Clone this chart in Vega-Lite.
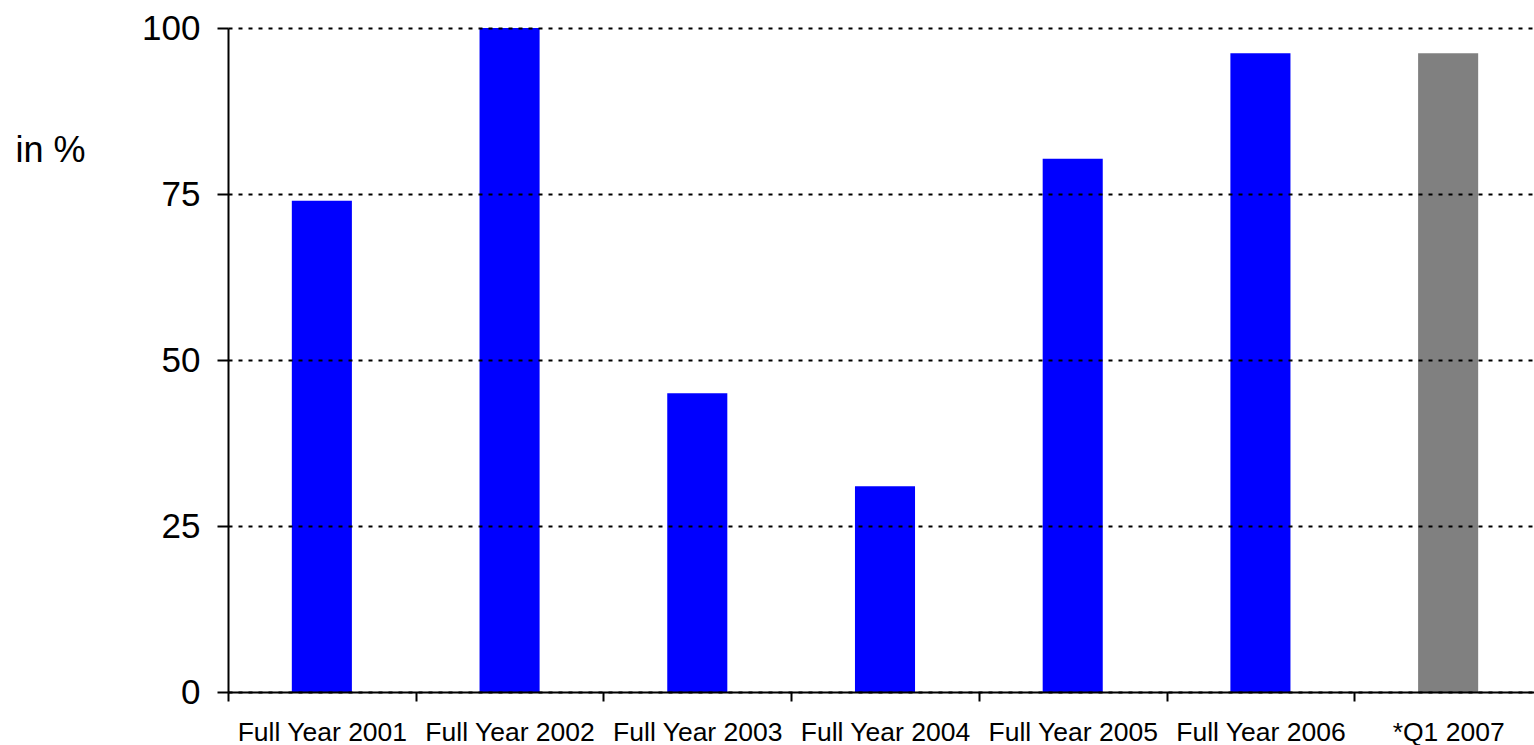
{
  "$schema": "https://vega.github.io/schema/vega-lite/v6.json",
  "autosize": {"type": "none"},
  "padding": {"left": 228, "top": 28, "right": 0, "bottom": 53},
  "width": 1314,
  "height": 664,
  "background": "white",
  "data": {
    "values": [
      {"period": "Full Year 2001", "value": 74.0, "kind": "full"},
      {"period": "Full Year 2002", "value": 100.0, "kind": "full"},
      {"period": "Full Year 2003", "value": 45.0, "kind": "full"},
      {"period": "Full Year 2004", "value": 31.0, "kind": "full"},
      {"period": "Full Year 2005", "value": 80.3, "kind": "full"},
      {"period": "Full Year 2006", "value": 96.2, "kind": "full"},
      {"period": "*Q1 2007", "value": 96.2, "kind": "quarter"}
    ]
  },
  "mark": {"type": "bar", "width": {"band": 0.32}},
  "encoding": {
    "x": {
      "field": "period",
      "type": "nominal",
      "sort": null,
      "scale": {"paddingInner": 0, "paddingOuter": 0},
      "axis": {
        "title": null,
        "tickBand": "extent",
        "labelAngle": 0,
        "labelFont": "Liberation Sans",
        "labelFontSize": 26.5,
        "labelColor": "black",
        "labelBaseline": "alphabetic",
        "labelPadding": 39,
        "ticks": true,
        "tickSize": 9,
        "tickColor": "black",
        "tickWidth": 2,
        "domainColor": "black",
        "domainWidth": 2,
        "grid": false,
        "zindex": 1
      }
    },
    "y": {
      "field": "value",
      "type": "quantitative",
      "scale": {"domain": [0, 100], "nice": false},
      "axis": {
        "values": [0, 25, 50, 75, 100],
        "title": "in %",
        "titleAngle": 0,
        "titleX": -178,
        "titleY": 122,
        "titleAlign": "center",
        "titleBaseline": "middle",
        "titleFont": "Liberation Sans",
        "titleFontSize": 36,
        "titleFontWeight": "normal",
        "titleColor": "black",
        "labelFont": "Liberation Sans",
        "labelFontSize": 35,
        "labelColor": "black",
        "labelPadding": 17,
        "tickSize": 11,
        "tickColor": "black",
        "tickWidth": 2,
        "domainColor": "black",
        "domainWidth": 2,
        "grid": true,
        "gridColor": "black",
        "gridWidth": 2,
        "gridDash": [4, 6],
        "zindex": 1
      }
    },
    "color": {
      "field": "kind",
      "type": "nominal",
      "scale": {"domain": ["full", "quarter"], "range": ["#0000FF", "#808080"]},
      "legend": null
    }
  },
  "config": {"view": {"stroke": null}}
}
